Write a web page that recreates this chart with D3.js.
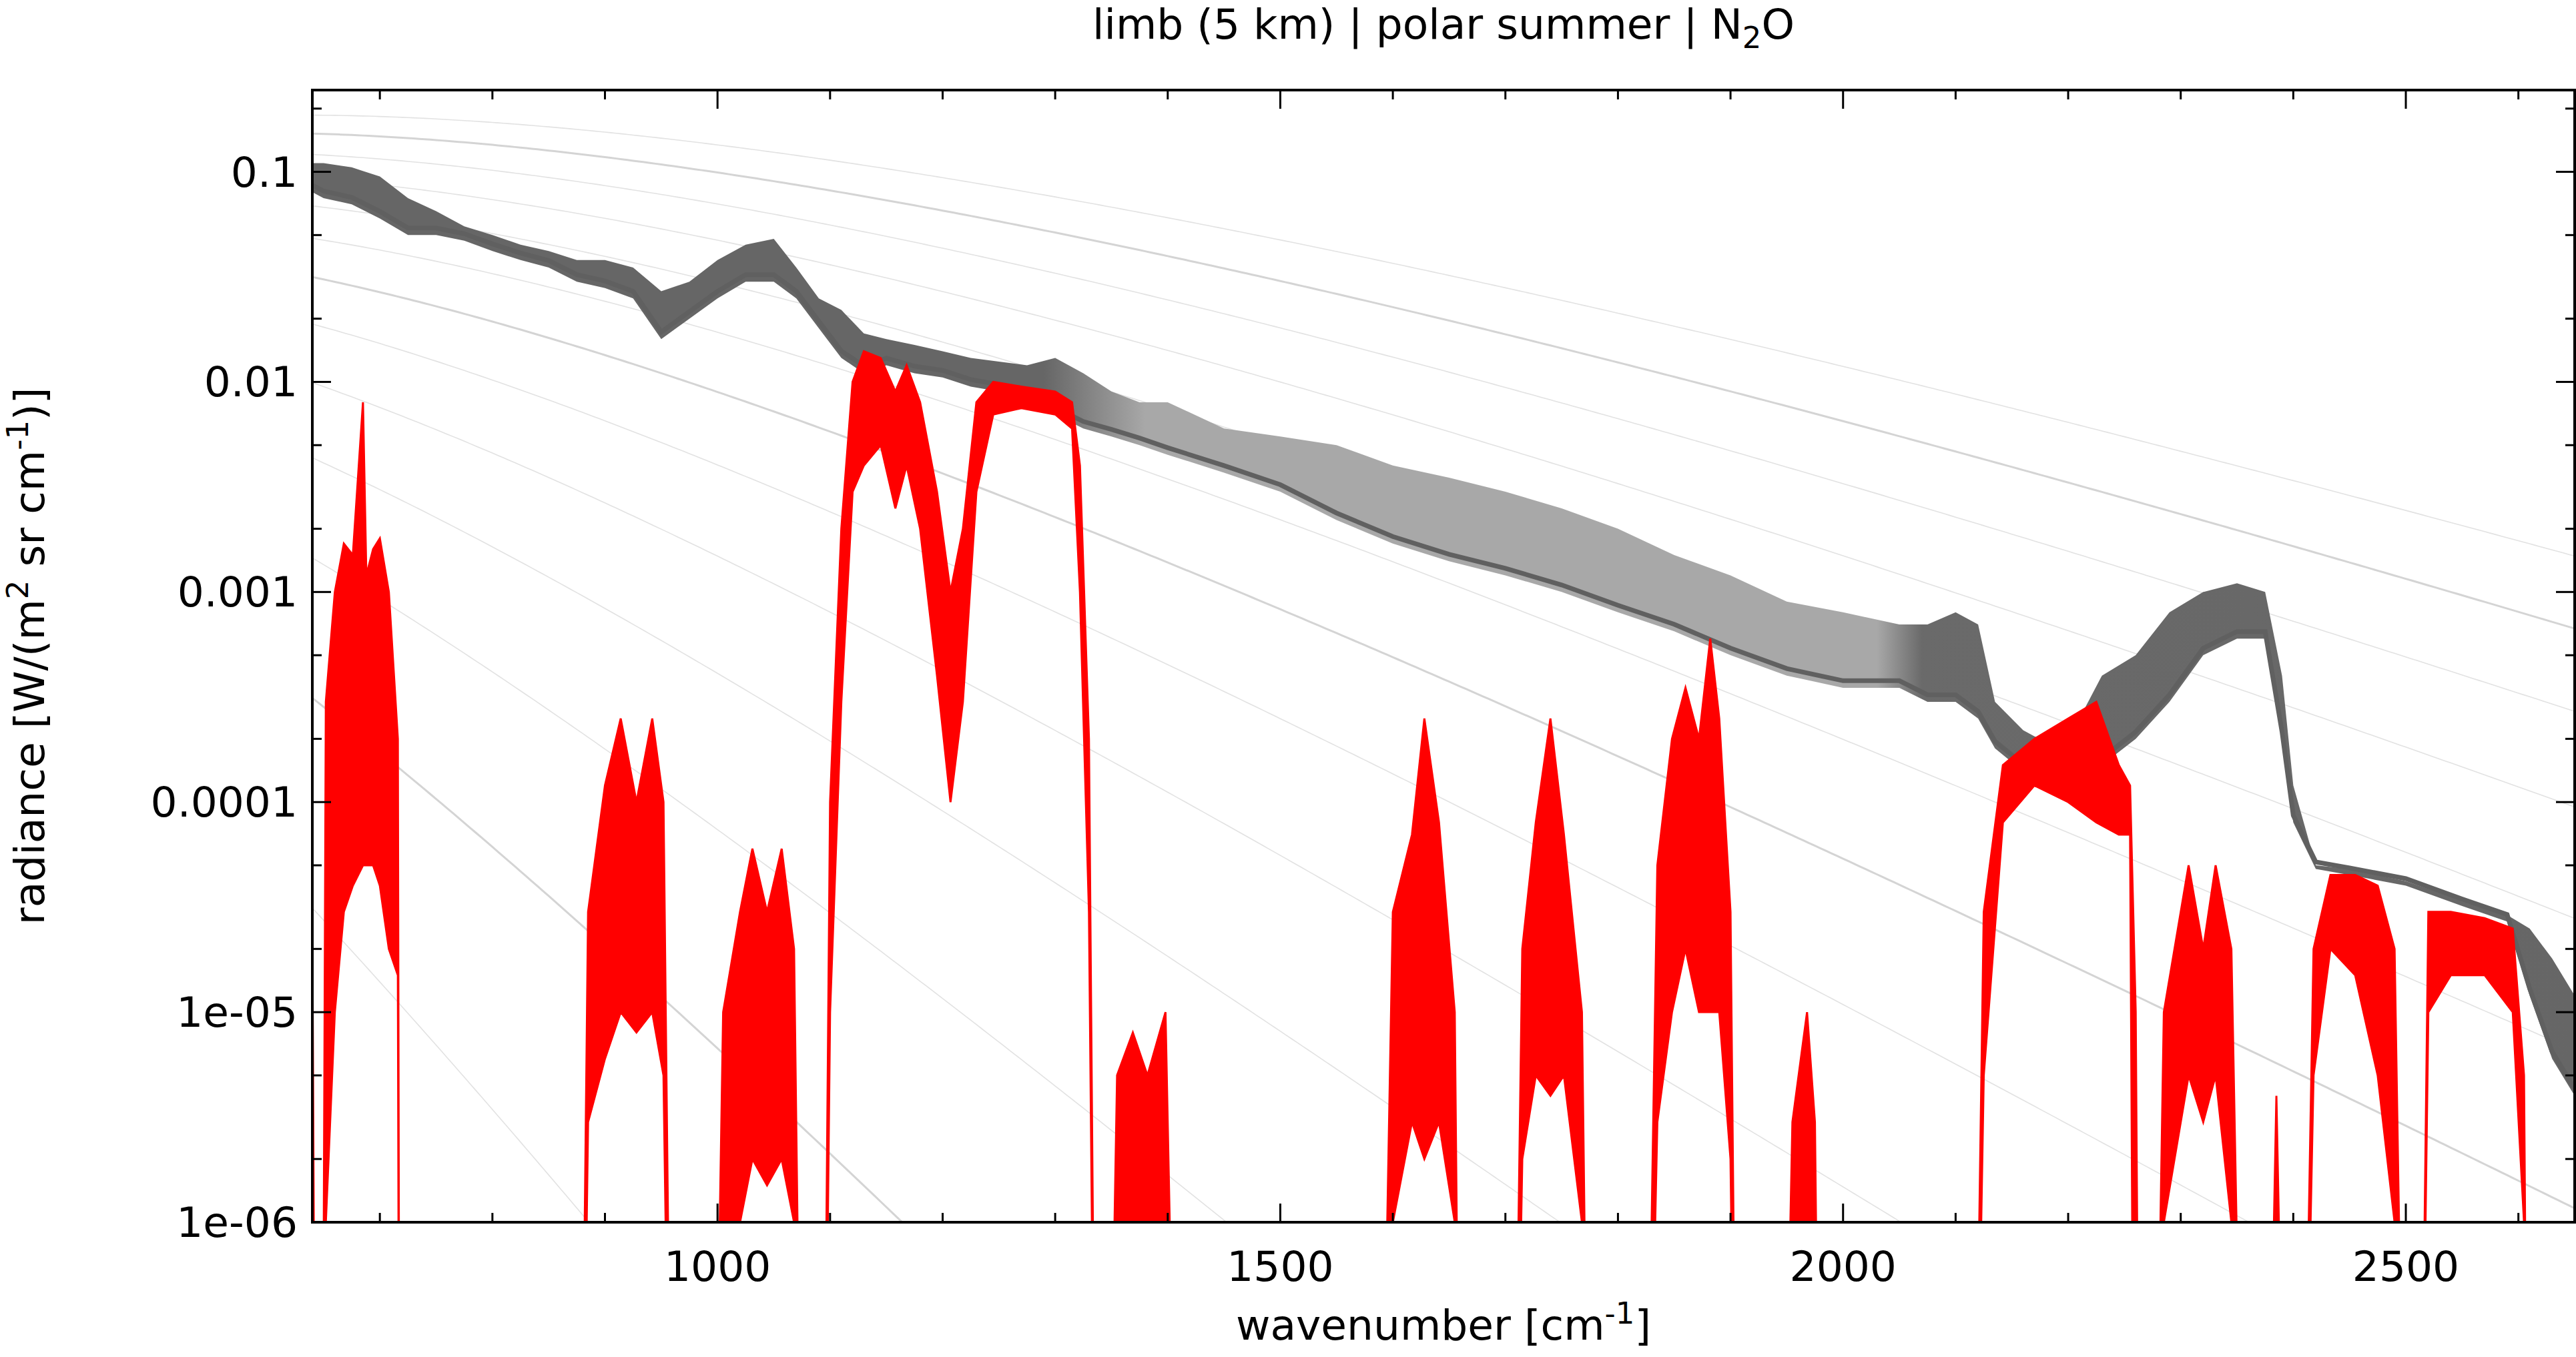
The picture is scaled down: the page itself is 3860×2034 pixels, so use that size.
<!DOCTYPE html>
<html>
<head>
<meta charset="utf-8">
<script src="https://cdn.jsdelivr.net/npm/d3@7"></script>
<style>
body { margin: 0; background: #fff; }
text { font-family: "DejaVu Sans", sans-serif; }
</style>
</head>
<body>
<script>
// limb radiance spectrum (gray): [wavenumber, lower, upper]
const limbSpectrum = [
  [640,.08,.11],[650,.075,.11],[675,.07,.105],[700,.06,.095],[725,.05,.075],[750,.05,.065],
  [775,.047,.055],[800,.042,.05],[825,.038,.045],[850,.035,.042],[875,.03,.038],[900,.028,.038],
  [925,.025,.035],[950,.016,.027],[975,.02,.03],[1000,.025,.038],[1025,.03,.045],[1050,.03,.048],
  [1070,.025,.035],[1090,.018,.025],[1110,.013,.022],[1130,.011,.017],[1150,.012,.016],[1175,.011,.015],
  [1200,.0105,.014],[1225,.0095,.013],[1250,.009,.0125],[1275,.008,.012],[1300,.007,.013],
  [1325,.006,.011],[1350,.0055,.009],[1375,.005,.008],[1400,.0045,.008],[1450,.0037,.006],
  [1500,.003,.0055],[1550,.0022,.005],[1600,.0017,.004],[1650,.0014,.0035],[1700,.0012,.003],
  [1750,.001,.0025],[1800,.0008,.002],[1850,.00065,.0015],[1900,.0005,.0012],[1950,.0004,.0009],
  [2000,.00035,.0008],[2050,.00035,.0007],[2075,.0003,.0007],[2100,.0003,.0008],[2120,.00025,.0007],
  [2135,.00018,.0003],[2160,.00014,.00022],[2190,.00013,.00018],[2210,.00013,.00025],[2230,.00015,.0004],
  [2260,.0002,.0005],[2290,.0003,.0008],[2320,.0005,.001],[2350,.0006,.0011],[2375,.0006,.001],
  [2390,.0002,.0004],[2400,.00008,.00012],[2420,.000048,.00005],[2450,.000045,.000048],
  [2500,.00004,.000042],[2550,.000032,.000034],[2590,.000027,.000029],[2610,.000012,.000025],
  [2630,.000006,.000018],[2650,.000004,.000012]
];

// N2O contribution (red): [wavenumber, lower, upper], 0 = below axis
const n2oSpectrum = [
  [640,0,2.5e-5],[644,0,0],[648,0,0],[652,1e-6,3e-4],[660,1e-5,1e-3],[668,3e-5,1.7e-3],[676,4e-5,1.5e-3],
  [685,5e-5,8e-3],[688,5e-5,1.2e-3],[694,5e-5,1.6e-3],[700,4e-5,1.8e-3],[708,2e-5,1e-3],[716,1.5e-5,2e-4],[718,0,0],
  [876,0,0],[885,3e-6,3e-5],[900,6e-6,1.2e-4],[914,1e-5,2.5e-4],[928,8e-6,1e-4],[942,1e-5,2.5e-4],[952,5e-6,1e-4],[962,0,0],
  [993,0,0],[1005,0,1e-5],[1020,1e-6,3e-5],[1031,2e-6,6e-5],[1044,1.5e-6,3e-5],[1057,2e-6,6e-5],[1068,1e-6,2e-5],[1078,0,0],
  [1092,0,0],[1100,1e-5,1e-4],[1110,3e-4,2e-3],[1120,3e-3,1e-2],[1130,4e-3,1.4e-2],[1145,5e-3,1.3e-2],[1158,2.5e-3,9e-3],
  [1168,4e-3,1.2e-2],[1180,2e-3,8e-3],[1195,4e-4,3e-3],[1207,1e-4,1e-3],[1218,3e-4,2e-3],[1230,3e-3,8e-3],[1245,7e-3,1e-2],
  [1270,7.5e-3,9.5e-3],[1300,7e-3,9e-3],[1315,6e-3,8e-3],[1322,1e-3,4e-3],[1330,3e-5,2e-4],[1338,0,0],
  [1343,0,0],[1355,0,5e-6],[1369,1e-6,8e-6],[1382,0,5e-6],[1398,1e-6,1e-5],[1413,0,0],
  [1585,0,0],[1600,1e-6,3e-5],[1617,3e-6,7e-5],[1628,2e-6,2.5e-4],[1641,3e-6,8e-5],[1655,1e-6,1e-5],[1662,0,0],
  [1704,0,0],[1715,2e-6,2e-5],[1727,5e-6,8e-5],[1740,4e-6,2.5e-4],[1752,5e-6,7e-5],[1768,1e-6,1e-5],[1777,0,0],
  [1821,0,0],[1835,3e-6,5e-5],[1848,1e-5,2e-4],[1860,2e-5,3.5e-4],[1872,1e-5,2e-4],[1882,1e-5,6e-4],[1890,1e-5,2.5e-4],
  [1900,2e-6,3e-5],[1908,0,0],
  [1942,0,0],[1955,0,3e-6],[1968,0,1e-5],[1975,0,3e-6],[1982,0,0],
  [2113,0,0],[2125,5e-6,3e-5],[2142,8e-5,1.5e-4],[2170,1.2e-4,2e-4],[2200,1e-4,2.5e-4],[2225,8e-5,3e-4],[2245,7e-5,1.5e-4],
  [2255,7e-5,1.2e-4],[2260,0,1e-5],[2265,0,0],
  [2273,0,0],[2285,1e-6,1e-5],[2307,5e-6,5e-5],[2320,3e-6,2e-5],[2331,5e-6,5e-5],[2345,1e-6,2e-5],[2360,0,0],
  [2372,0,0],[2385,0,4e-6],[2398,0,0],
  [2404,0,0],[2418,5e-6,2e-5],[2433,2e-5,4.5e-5],[2455,1.5e-5,4.5e-5],[2475,5e-6,4e-5],[2490,1e-6,2e-5],[2503,0,0],
  [2510,0,0],[2520,1e-5,3e-5],[2540,1.5e-5,3e-5],[2570,1.5e-5,2.8e-5],[2595,1e-5,2.5e-5],[2605,1e-6,5e-6],[2610,0,0]
];

// reference isotherms (K), thick every 100 K
const temperatures = [80,100,120,140,160,180,200,220,240,260,280,300,320];
const xTicks = [1000,1500,2000,2500];
const yTicks = [0.1,0.01,0.001,0.0001,1e-5,1e-6];
const yTickLabels = ["0.1","0.01","0.001","0.0001","1e-05","1e-06"];

const W = 3860, H = 2034;
const m = {left: 468, right: 3858, top: 135, bottom: 1832};

const svg = d3.select("body").append("svg").attr("width", W).attr("height", H);
const x = d3.scaleLinear().domain([640, 2650]).range([m.left, m.right]);
const y = d3.scaleLog().domain([1e-6, 0.245]).range([m.bottom, m.top]);
const tiny = 1e-9;

const defs = svg.append("defs");
defs.append("clipPath").attr("id", "clip").append("rect")
  .attr("x", m.left).attr("y", m.top).attr("width", m.right - m.left).attr("height", m.bottom - m.top);
// sparse emission lines between 1300 and 2120 look lighter
const grad = defs.append("linearGradient").attr("id", "grayfill")
  .attr("gradientUnits", "userSpaceOnUse")
  .attr("x1", x(640)).attr("x2", x(2650)).attr("y1", 0).attr("y2", 0);
[[640,"#666"],[1290,"#666"],[1380,"#a8a8a8"],[2030,"#a8a8a8"],[2070,"#6a6a6a"],[2650,"#666"]].forEach(function (s) {
  grad.append("stop").attr("offset", (x(s[0]) - x(640)) / (x(2650) - x(640))).attr("stop-color", s[1]);
});
const plot = svg.append("g").attr("clip-path", "url(#clip)");

// Planck curves
function planck(nu, T) { return 1.191042e-8 * nu * nu * nu / (Math.exp(1.4387769 * nu / T) - 1); }
const nus = d3.range(640, 2651, 5);
temperatures.forEach(function (T) {
  plot.append("path")
    .datum(nus.map(function (n) { return [n, Math.max(planck(n, T), tiny)]; }))
    .attr("fill", "none")
    .attr("stroke", T % 100 === 0 ? "#d4d4d4" : "#e2e2e2")
    .attr("stroke-width", T % 100 === 0 ? 3 : 1.6)
    .attr("d", d3.line().x(d => x(d[0])).y(d => y(d[1])));
});

// limb spectrum
plot.append("path").datum(limbSpectrum)
  .attr("fill", "url(#grayfill)")
  .attr("d", d3.area().x(d => x(d[0])).y0(d => y(d[1])).y1(d => y(d[2])));
plot.append("path").datum(limbSpectrum)
  .attr("fill", "none").attr("stroke", "#606060").attr("stroke-width", 7)
  .attr("d", d3.line().x(d => x(d[0])).y(d => y(d[1] * 1.08)));

// N2O contribution
plot.append("path").datum(n2oSpectrum)
  .attr("fill", "#ff0000").attr("stroke", "#ff0000").attr("stroke-width", 3)
  .attr("d", d3.area().x(d => x(d[0]))
    .y0(d => y(Math.max(d[1], tiny))).y1(d => y(Math.max(d[2], tiny))));

// frame
svg.append("rect").attr("x", m.left).attr("y", m.top)
  .attr("width", m.right - m.left).attr("height", m.bottom - m.top)
  .attr("fill", "none").attr("stroke", "#000").attr("stroke-width", 4);

const axes = svg.append("g").attr("stroke", "#000").attr("stroke-width", 3);
d3.range(700, 2651, 100).forEach(function (v) {
  const len = v % 500 === 0 ? 28 : 14;
  axes.append("line").attr("x1", x(v)).attr("x2", x(v)).attr("y1", m.bottom).attr("y2", m.bottom - len);
  axes.append("line").attr("x1", x(v)).attr("x2", x(v)).attr("y1", m.top).attr("y2", m.top + len);
});
[1e-6,1e-5,1e-4,1e-3,1e-2,0.1].forEach(function (d) {
  [1, 2, 5].forEach(function (k) {
    const v = d * k;
    if (v > 0.245) return;
    const len = k === 1 ? 28 : 14;
    axes.append("line").attr("x1", m.left).attr("x2", m.left + len).attr("y1", y(v)).attr("y2", y(v));
    axes.append("line").attr("x1", m.right).attr("x2", m.right - len).attr("y1", y(v)).attr("y2", y(v));
  });
});

const fs = 63, fsSub = 45;
svg.selectAll(".xt").data(xTicks).enter().append("text")
  .attr("x", d => x(d)).attr("y", m.bottom + 88).attr("text-anchor", "middle")
  .attr("font-size", fs).text(d => d);
svg.selectAll(".yt").data(yTicks).enter().append("text")
  .attr("x", m.left - 22).attr("y", d => y(d) + 22).attr("text-anchor", "end")
  .attr("font-size", fs).text((d, i) => yTickLabels[i]);

// title
const t = svg.append("text").attr("x", (m.left + m.right) / 2).attr("y", 58)
  .attr("text-anchor", "middle").attr("font-size", fs);
t.append("tspan").text("limb (5 km) | polar summer | N");
t.append("tspan").attr("font-size", fsSub).attr("dy", 14).text("2");
t.append("tspan").attr("dy", -14).text("O");

// x label
const xl = svg.append("text").attr("x", (m.left + m.right) / 2).attr("y", 2008)
  .attr("text-anchor", "middle").attr("font-size", fs);
xl.append("tspan").text("wavenumber [cm");
xl.append("tspan").attr("font-size", fsSub).attr("dy", -24).text("-1");
xl.append("tspan").attr("dy", 24).text("]");

// y label
const yl = svg.append("text").attr("transform", "translate(66," + ((m.top + m.bottom) / 2) + ") rotate(-90)")
  .attr("text-anchor", "middle").attr("font-size", fs);
yl.append("tspan").text("radiance [W/(m");
yl.append("tspan").attr("font-size", fsSub).attr("dy", -24).text("2");
yl.append("tspan").attr("dy", 24).text(" sr cm");
yl.append("tspan").attr("font-size", fsSub).attr("dy", -24).text("-1");
yl.append("tspan").attr("dy", 24).text(")]");
</script>
</body>
</html>
